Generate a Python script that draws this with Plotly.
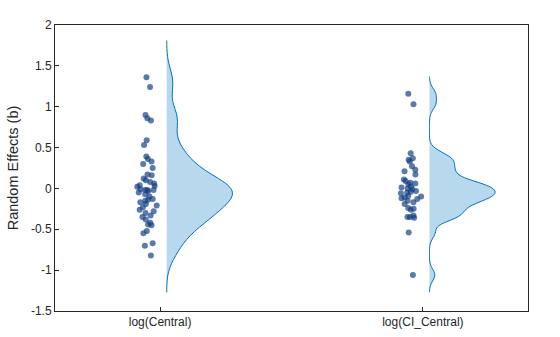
import plotly.graph_objects as go

categories = ["log(Central)", "log(CI_Central)"]
positions = [1, 2]

central = [1.36, 1.24, 0.90, 0.86, 0.83, 0.59, 0.53, 0.39, 0.36, 0.33, 0.30, 0.25,
           0.17, 0.16, 0.12, 0.10, 0.08, 0.06, 0.04, 0.03, 0.02, -0.01, -0.02, -0.02,
           -0.03, -0.02, -0.05, -0.07, -0.10, -0.13, -0.14, -0.15, -0.17, -0.19, -0.21,
           -0.23, -0.26, -0.28, -0.30, -0.33, -0.35, -0.38, -0.42, -0.44, -0.45, -0.52,
           -0.55, -0.67, -0.70, -0.82]
ci_central = [1.16, 1.03, 0.43, 0.37, 0.35, 0.33, 0.27, 0.23, 0.21, 0.17, 0.11, 0.09,
              0.07, 0.06, 0.05, 0.02, 0.01, 0.00, -0.01, -0.03, -0.04, -0.05, -0.06,
              -0.09, -0.10, -0.11, -0.12, -0.13, -0.15, -0.17, -0.19, -0.24, -0.25,
              -0.26, -0.33, -0.35, -0.35, -0.36, -0.54, -1.06]
series = [central, ci_central]
bandwidths = [0.15, 0.07]

ytick_vals = [-1.5, -1, -0.5, 0, 0.5, 1, 1.5, 2]
ytick_text = ["-1.5", "-1", "-0.5", "0", "0.5", "1", "1.5", "2"]

fig = go.Figure()
for pos, vals, bw in zip(positions, series, bandwidths):
    fig.add_trace(go.Violin(
        y=vals, x0=pos + 0.025, side="positive", width=0.5,
        bandwidth=bw, spanmode="manual", span=[min(vals) - 3 * bw, max(vals) + 3 * bw],
        line=dict(color="#0072BD", width=1), fillcolor="rgba(0,114,189,0.28)",
        points="all", pointpos=-0.28, jitter=0.18,
        marker=dict(color="rgba(16,60,130,0.68)", size=6, line=dict(width=0)),
        box_visible=False, meanline_visible=False, showlegend=False,
        hoveron="violins",
    ))

axis_common = dict(showline=True, linecolor="#262626", linewidth=1, mirror=True,
                   ticks="inside", ticklen=4, tickcolor="#262626", showgrid=False,
                   zeroline=False, automargin=False,
                   tickfont=dict(family="Liberation Sans, Arial", size=12, color="#262626"))
fig.update_layout(
    width=560, height=337, margin=dict(l=55, r=32, t=25, b=26),
    plot_bgcolor="white", paper_bgcolor="white",
    xaxis=dict(range=[0.6, 2.4], tickvals=positions, ticktext=categories, **axis_common),
    yaxis=dict(range=[-1.5, 2], tickvals=ytick_vals, ticktext=ytick_text,
               title=dict(text="Random Effects (b)", standoff=8,
                          font=dict(family="Liberation Sans, Arial", size=14.5, color="#262626")),
               **axis_common),
)
fig.write_html("out.html")
